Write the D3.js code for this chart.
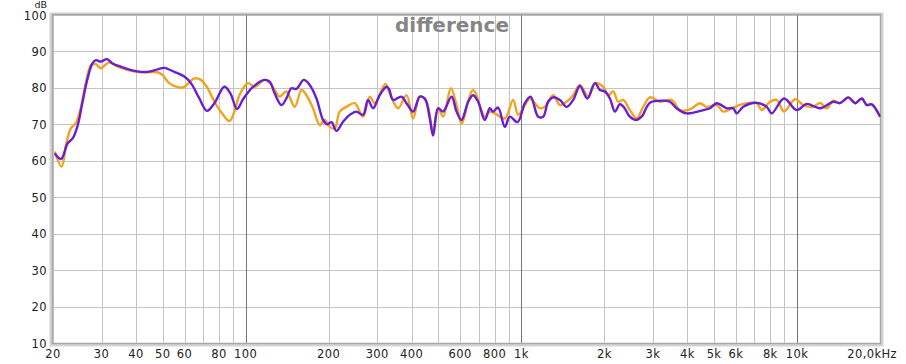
<!DOCTYPE html>
<html>
<head>
<meta charset="utf-8">
<script src="https://cdnjs.cloudflare.com/ajax/libs/d3/7.8.5/d3.min.js"></script>
<style>
  body { margin: 0; background: #fff; }
  svg text { font-family: "DejaVu Sans", Verdana, sans-serif; }
</style>
</head>
<body>
<script>
// данные
purpleFreq = [20.3, 21.4, 22.6, 23.6, 24.6, 25.6, 26.7, 27.8, 28.6, 29.8, 31.4, 32.9, 35.3, 40, 44.1, 47.9, 50.7, 55.1, 59.9, 63.3, 67.9, 72.4, 77, 83.7, 88, 93, 97.5, 100.6, 106.3, 117.2, 122.2, 127.4, 134.8, 140.5, 146.5, 152.8, 162.4, 170.7, 180.6, 190.8, 197.3, 204.7, 213.4, 225.5, 238.5, 252.2, 266.5, 277.9, 289.8, 306.4, 324.1, 331, 342.5, 367.5, 383.1, 404.9, 428.2, 446.4, 465.5, 478.5, 498.9, 520.2, 558.1, 581.9, 606.7, 641.2, 668.3, 696.9, 737, 768.4, 789.8, 823.6, 871.1, 908.4, 968.7, 1030, 1080, 1151, 1200, 1251, 1304, 1380, 1459, 1542, 1631, 1736, 1849, 1928, 2010, 2096, 2185, 2278, 2376, 2460, 2604, 2731, 2927, 3271, 3459, 3659, 3977, 4570, 4833, 5111, 5557, 5872, 6041, 6384, 7141, 7763, 8095, 8970, 9975, 10845, 12119, 13545, 14324, 15359, 16243, 17178, 17906, 18668, 20010];
purpleDb = [62, 60.5, 64.8, 66.2, 69.8, 76.2, 82.6, 86.7, 87.6, 87.2, 87.9, 86.7, 85.8, 84.6, 84.4, 85.1, 85.5, 84.4, 83.1, 81.3, 77.1, 73.7, 75.8, 80.3, 78.5, 74.2, 76.7, 78.2, 80.3, 82.2, 81.7, 78.5, 75.3, 77.1, 79.9, 79.7, 82.2, 80.8, 77.1, 71.2, 70, 70.6, 68.2, 70.7, 72.6, 73.5, 72.6, 76.7, 74.4, 78, 80.3, 79.7, 76.7, 77.6, 75.8, 73.5, 77.6, 77.1, 71.6, 66.9, 74.4, 73.5, 77.6, 73.5, 71.2, 76.2, 78, 76.2, 71.2, 74.4, 73.5, 74.6, 69.3, 72.1, 70.6, 75.8, 77.6, 72.1, 72.1, 76.2, 77.4, 76.7, 74.8, 76.7, 80.5, 77.1, 81.3, 79.4, 79, 77.1, 73.5, 75.5, 74.3, 72.3, 71.2, 72.1, 75.9, 76.5, 76.2, 74.4, 73, 73.9, 74.4, 75.8, 74.4, 74.4, 73, 74.8, 75.9, 74.8, 73, 77.1, 73.9, 75.6, 74.4, 76.2, 75.8, 77.4, 75.8, 77.1, 75.3, 75.5, 72.1];

orangeFreq = [20.3, 21.5, 22.3, 23.2, 24.2, 25.2, 26.3, 27.5, 28.6, 29.8, 32, 34.3, 40, 44.1, 47.9, 50, 52.8, 57.4, 59.9, 65.1, 68.8, 72.8, 77, 82.5, 87.3, 91, 94.9, 101.9, 107.8, 117.2, 124, 132.9, 140.5, 150.6, 159.3, 166.1, 175.5, 185.6, 193.6, 201.8, 210.4, 219.4, 232, 248.6, 266.5, 281.9, 293.9, 321, 333.2, 357.1, 383.1, 404.9, 428.2, 452.8, 478.5, 498.9, 520.2, 554.9, 581.9, 606.7, 668.3, 737, 768.4, 801.1, 871.1, 933.7, 973.6, 1030, 1074, 1119, 1167, 1217, 1304, 1380, 1459, 1542, 1631, 1748, 1849, 1982, 2066, 2154, 2246, 2342, 2477, 2619, 2768, 2927, 3182, 3509, 3761, 4089, 4446, 4702, 5111, 5401, 5794, 6384, 7141, 7446, 7980, 8440, 8970, 9833, 10542, 11460, 12119, 12817, 13545, 14324, 15359, 16243, 17178, 17906, 18668, 20010];
orangeDb = [62.5, 58.4, 64.3, 68.9, 70.3, 74.4, 81.3, 86.3, 86.5, 85.4, 87, 85.8, 84.4, 84.3, 84.3, 83.5, 81.3, 80.1, 80.3, 82.6, 82.2, 79.9, 76.2, 72.8, 70.9, 73.5, 78, 81.3, 80.3, 82.2, 80.8, 77.6, 79, 74.8, 79.4, 78, 74.4, 69.8, 71.2, 69.3, 68.9, 73.5, 74.8, 75.8, 72.1, 77.6, 75.8, 81.1, 78.5, 74.4, 78, 71.6, 77.6, 76.2, 68, 74.4, 72.1, 79.9, 75.3, 70.3, 79.4, 72.1, 73.5, 73, 71.6, 76.7, 72.6, 75.3, 77.1, 75.8, 74.4, 74.8, 78, 75.3, 76.2, 78, 80.8, 77.6, 81.3, 80.3, 78, 79, 76.2, 76.7, 73.9, 71.6, 74.8, 77.4, 76.2, 76.7, 73.9, 74.1, 75.8, 74.8, 75.3, 73.5, 74.4, 75.6, 75.8, 73.9, 76.2, 76.7, 73.5, 76.9, 75.3, 74.8, 75.9, 74.4, 76.5, 75.9, 77.4, 75.8, 77.1, 75.3, 75.5, 72.1];

yTicks = [10, 20, 30, 40, 50, 60, 70, 80, 90, 100];
gridFreqs = [20, 30, 40, 50, 60, 70, 80, 90, 100, 200, 300, 400, 500, 600, 700, 800, 900, 1000, 2000, 3000, 4000, 5000, 6000, 7000, 8000, 9000, 10000, 20000];
decadeFreqs = [100, 1000, 10000];
xTicks = [20, 30, 40, 50, 60, 80, 100, 200, 300, 400, 600, 800, 1000, 2000, 3000, 4000, 5000, 6000, 8000, 10000];
xTickLabels = ['20', '30', '40', '50', '60', '80', '100', '200', '300', '400', '600', '800', '1k', '2k', '3k', '4k', '5k', '6k', '8k', '10k'];

chartW = 906;
chartH = 364;
plotL = 53; plotR = 880; plotT = 15; plotB = 343;

x = d3.scaleLog().domain([20, 20000]).range([plotL, plotR]);
y = d3.scaleLinear().domain([10, 100]).range([plotB, plotT]);

svg = d3.select('body').append('svg')
   .attr('width', chartW)
   .attr('height', chartH);

// тень рамки
svg.append('rect')
   .attr('x', plotL - 2).attr('y', plotT - 1)
   .attr('width', plotR - plotL + 4).attr('height', plotB - plotT + 3)
   .attr('fill', 'none').attr('stroke', '#d4d4d4').attr('stroke-width', 3);

// сетка
svg.append('g').selectAll('line')
   .data(yTicks)
.enter().append('line')
   .attr('x1', plotL).attr('x2', plotR)
   .attr('y1', (d) => Math.round(y(d)) + 0.5).attr('y2', (d) => Math.round(y(d)) + 0.5)
   .attr('stroke', '#c4c4c4').attr('stroke-width', 1);
svg.append('g').selectAll('line')
   .data(gridFreqs)
.enter().append('line')
   .attr('x1', (d) => Math.round(x(d)) + 0.5).attr('x2', (d) => Math.round(x(d)) + 0.5)
   .attr('y1', plotT).attr('y2', plotB)
   .attr('stroke', (d) => decadeFreqs.includes(d) ? '#777' : '#c4c4c4')
   .attr('stroke-width', 1);

// рамка
svg.append('rect')
   .attr('x', plotL - 0.5).attr('y', plotT - 0.5)
   .attr('width', plotR - plotL + 1).attr('height', plotB - plotT + 1)
   .attr('fill', 'none').attr('stroke', '#a8a8a8').attr('stroke-width', 1.5);

// подписи осей
svg.append('g').selectAll('text')
   .data(yTicks)
.enter().append('text')
   .attr('x', 47).attr('y', (d) => y(d) + 4.5)
   .attr('text-anchor', 'end')
   .attr('font-size', 11.5).attr('letter-spacing', 0.4).attr('fill', '#222')
   .text((d) => d);
svg.append('text')
   .attr('x', 47).attr('y', 8)
   .attr('text-anchor', 'end')
   .attr('font-size', 9.5).attr('fill', '#222')
   .text('dB');

svg.append('g').selectAll('text')
   .data(xTicks)
.enter().append('text')
   .attr('x', (d) => x(d)).attr('y', 358)
   .attr('text-anchor', 'middle')
   .attr('font-size', 11.5).attr('letter-spacing', 0.4).attr('fill', '#222')
   .text((d, i) => xTickLabels[i]);
svg.append('text')
   .attr('x', 897).attr('y', 358)
   .attr('text-anchor', 'end')
   .attr('font-size', 11.5).attr('letter-spacing', 0.4).attr('fill', '#222')
   .text('20,0kHz');

// заголовок
svg.append('text')
   .attr('x', 452).attr('y', 32)
   .attr('text-anchor', 'middle')
   .attr('font-size', 20).attr('font-weight', 'bold').attr('fill', '#858585')
   .text('difference');

// кривые
line = d3.line()
   .x((d) => x(d[0]))
   .y((d) => y(d[1]))
   .curve(d3.curveCatmullRom.alpha(0.5));

svg.append('path')
   .datum(orangeFreq.map((f, i) => [f, orangeDb[i]]))
   .attr('d', line)
   .attr('fill', 'none').attr('stroke', '#f4a21e').attr('stroke-width', 2.4)
   .attr('stroke-linejoin', 'round');
svg.append('path')
   .datum(purpleFreq.map((f, i) => [f, purpleDb[i]]))
   .attr('d', line)
   .attr('fill', 'none').attr('stroke', '#6a1ed2').attr('stroke-width', 2.4)
   .attr('stroke-linejoin', 'round');
</script>
</body>
</html>
